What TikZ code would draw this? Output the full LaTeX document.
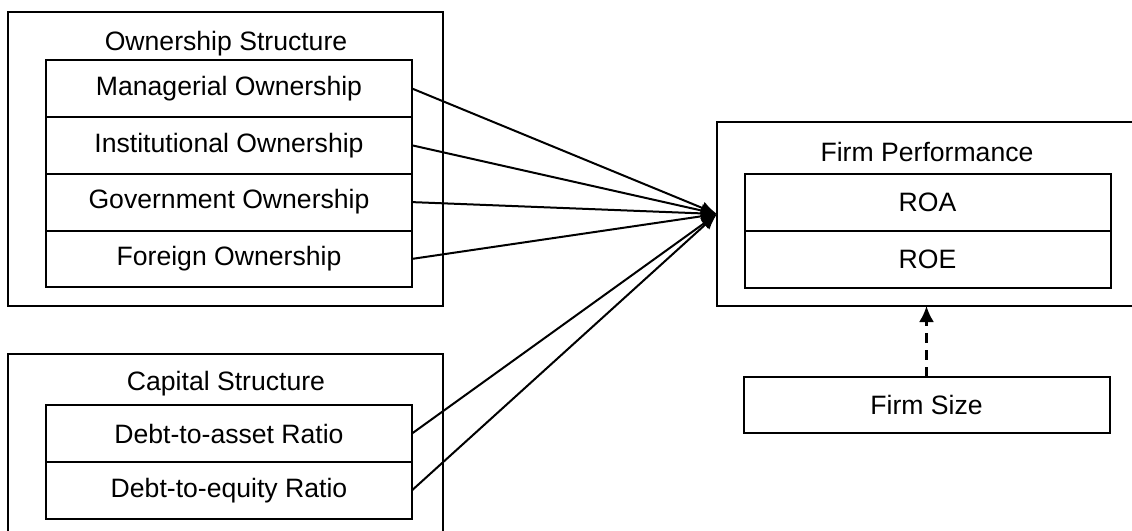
\documentclass[tikz,border=0pt]{standalone}
\usepackage{fontspec}
\setmainfont{Liberation Sans}
\usetikzlibrary{arrows.meta}
\usetikzlibrary{positioning}

\tikzset{
  varbox/.style={draw, line width=1pt, minimum width=183pt, minimum height=28.4pt,
    inner sep=0pt, outer sep=0pt, font=\fontsize{13.3}{15}\selectfont},
  groupbox/.style={draw, line width=1pt, inner sep=0pt, outer sep=0pt},
  grouptitle/.style={font=\fontsize{13.3}{15}\selectfont},
  link/.style={line width=1pt, -{Latex[length=8pt,width=6.5pt]}},
  control/.style={line width=1.2pt, dash pattern=on 5pt off 3.5pt, -{Latex[length=8pt,width=7.5pt]}},
}

\begin{document}
\begin{tikzpicture}[x=0.5pt, y=-0.5pt]
    \useasboundingbox (0,0) rectangle (1132,531);
    % ownership structure
    \node[groupbox, minimum width=217.5pt, minimum height=147pt] (own) at (225.5,159) {};
    \node[grouptitle] (ownt) at (226,44) {Ownership Structure};
    \node[varbox] (mo) at (229,88.5) {Managerial Ownership};
    \node[varbox, below=0pt of mo] (io) {Institutional Ownership};
    \node[varbox, below=0pt of io] (go) {Government Ownership};
    \node[varbox, below=0pt of go] (fo) {Foreign Ownership};
    % capital structure
    \node[groupbox, minimum width=217.5pt, minimum height=90pt] (cap) at (225.5,444) {};
    \node[grouptitle] (capt) at (226,384) {Capital Structure};
    \node[varbox] (da) at (229,433.5) {Debt-to-asset Ratio};
    \node[varbox, below=0pt of da] (de) {Debt-to-equity Ratio};
    % firm performance
    \node[groupbox, minimum width=211.5pt, minimum height=92pt] (fp) at (928.5,214) {};
    \node[grouptitle] (fpt) at (927,152) {Firm Performance};
    \node[varbox] (roa) at (927.5,202.5) {ROA};
    \node[varbox, below=0pt of roa] (roe) {ROE};
    % control
    \node[varbox] (size) at (926.5,405) {Firm Size};
    \foreach \src in {mo, io, go, fo, da, de}{
      \draw [link] (\src.east) -- (fp.west);
    }
    \draw [control] (size.north) -- (size.north |- fp.south);
  \end{tikzpicture}
\end{document}
